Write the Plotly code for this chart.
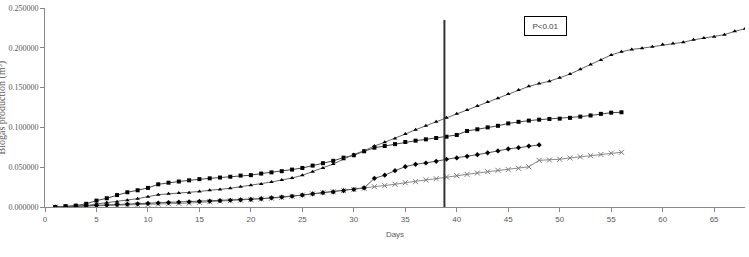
import plotly.graph_objects as go

days_fill = list(range(1, 57))
filleting = [0, 0.0003, 0.0006, 0.001, 0.0013, 0.0016, 0.002, 0.0023, 0.0027, 0.003,
             0.0035, 0.004, 0.0045, 0.005, 0.0058, 0.0065, 0.0072, 0.0078, 0.0085, 0.0092,
             0.010, 0.011, 0.012, 0.0135, 0.015, 0.0165, 0.018, 0.019, 0.0205, 0.022,
             0.0235, 0.0255, 0.0268, 0.0285, 0.0305, 0.0318, 0.034, 0.0356, 0.0377, 0.0394,
             0.041, 0.0427, 0.0444, 0.046, 0.047, 0.0486, 0.0505, 0.0586, 0.059, 0.060,
             0.0616, 0.063, 0.0645, 0.066, 0.0675, 0.0687]

days_bleed = list(range(1, 57))
bleeding = [0, 0.001, 0.0017, 0.004, 0.008, 0.011, 0.015, 0.0185, 0.021, 0.024,
            0.0285, 0.0305, 0.032, 0.0335, 0.035, 0.036, 0.037, 0.038, 0.0395, 0.040,
            0.042, 0.0435, 0.045, 0.047, 0.049, 0.052, 0.055, 0.058, 0.062, 0.065,
            0.070, 0.0745, 0.0766, 0.079, 0.0817, 0.0833, 0.085, 0.0867, 0.0883, 0.0905,
            0.0955, 0.0976, 0.100, 0.102, 0.105, 0.107, 0.1085, 0.1097, 0.1106, 0.111,
            0.112, 0.1135, 0.115, 0.117, 0.1185, 0.119]

days_cont = list(range(1, 69))
continuous = [0, 0.0004, 0.001, 0.0017, 0.0038, 0.0055, 0.0067, 0.0084, 0.0105, 0.013,
              0.0155, 0.0165, 0.0175, 0.018, 0.0195, 0.021, 0.022, 0.0235, 0.0255, 0.0272,
              0.0289, 0.0314, 0.034, 0.0364, 0.0398, 0.0444, 0.049, 0.054, 0.060, 0.066,
              0.0707, 0.0766, 0.0813, 0.0862, 0.0917, 0.0971, 0.102, 0.107, 0.112, 0.117,
              0.122, 0.127, 0.132, 0.1366, 0.142, 0.147, 0.1516, 0.155, 0.158, 0.1625,
              0.167, 0.173, 0.179, 0.1847, 0.191, 0.195, 0.198, 0.1995, 0.2014, 0.204,
              0.2055, 0.207, 0.21, 0.2123, 0.214, 0.2165, 0.2207, 0.224]

days_ctrl = list(range(1, 49))
control = [0, 0.0005, 0.001, 0.0015, 0.002, 0.0025, 0.003, 0.0035, 0.004, 0.0045,
           0.005, 0.0055, 0.006, 0.0065, 0.007, 0.0075, 0.008, 0.0085, 0.009, 0.0095,
           0.0105, 0.0115, 0.0125, 0.0135, 0.015, 0.0165, 0.018, 0.019, 0.0205, 0.022,
           0.024, 0.036, 0.040, 0.0456, 0.0507, 0.0536, 0.0553, 0.0574, 0.060, 0.0616,
           0.0637, 0.0657, 0.068, 0.0705, 0.073, 0.0745, 0.0766, 0.078]

vline_day = 38.8
vline_top = 0.235
p_label = "P<0.01"
p_pos = (48.6, 0.2274)

fig = go.Figure()
fig.add_trace(go.Scatter(x=days_fill, y=filleting, name="Filleting", mode="lines+markers",
                         line=dict(color="#8a8a8a", width=1),
                         marker=dict(symbol="x-thin", size=5, line=dict(color="#7a7a7a", width=1))))
fig.add_trace(go.Scatter(x=days_bleed, y=bleeding, name="Bleeding", mode="lines+markers",
                         line=dict(color="#444444", width=1),
                         marker=dict(symbol="square", size=4, color="#000000")))
fig.add_trace(go.Scatter(x=days_cont, y=continuous, name="Continuous Process", mode="lines+markers",
                         line=dict(color="#666666", width=1),
                         marker=dict(symbol="triangle-up", size=4, color="#000000")))
fig.add_trace(go.Scatter(x=days_ctrl, y=control, name="Control", mode="lines+markers",
                         line=dict(color="#555555", width=1),
                         marker=dict(symbol="diamond", size=4, color="#000000")))

fig.add_shape(type="line", x0=vline_day, x1=vline_day, y0=0, y1=vline_top,
              xref="x", yref="y", line=dict(color="#333333", width=2))

fig.add_annotation(x=p_pos[0], y=p_pos[1], xref="x", yref="y", text=p_label, showarrow=False,
                   font=dict(family="Liberation Sans", size=8, color="#404040"),
                   bordercolor="#000000", borderwidth=1, borderpad=2, bgcolor="white",
                   width=37, height=14)

fig.add_annotation(x=0, y=0.5, xref="paper", yref="paper", text="Biogas production (m³)",
                   textangle=-90, showarrow=False, xanchor="center", yanchor="middle", xshift=-44,
                   font=dict(family="Liberation Serif", size=10, color="#595959"))

fig.update_layout(
    width=749, height=257,
    margin=dict(l=45, r=4, t=8, b=50, autoexpand=False),
    paper_bgcolor="white", plot_bgcolor="white",
    showlegend=True,
    legend=dict(orientation="h", x=0.459, xanchor="center", y=-0.215, yanchor="top",
                font=dict(family="Liberation Sans", size=8, color="#595959"),
                itemwidth=30, tracegroupgap=0),
    xaxis=dict(range=[0, 68], dtick=5, tick0=0, showgrid=False, zeroline=False,
               showline=True, linecolor="#888888", linewidth=1,
               ticks="outside", ticklen=4, tickcolor="#888888",
               tickfont=dict(family="Liberation Sans", size=8, color="#595959"),
               title=dict(text="Days", font=dict(family="Liberation Sans", size=8, color="#595959"),
                          standoff=8)),
    yaxis=dict(range=[0, 0.25], dtick=0.05, tick0=0, tickformat=".6f", showgrid=False,
               zeroline=False, showline=True, linecolor="#888888", linewidth=1,
               ticks="outside", ticklen=4, tickcolor="#888888",
               tickfont=dict(family="Liberation Serif", size=8, color="#595959")),
)

fig.write_html("out.html")
